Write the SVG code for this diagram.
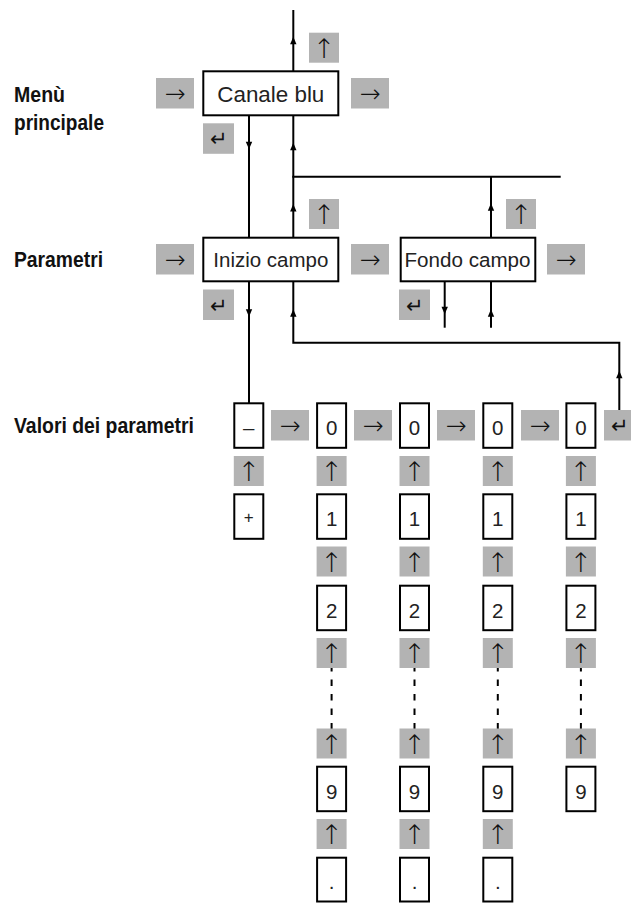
<svg xmlns="http://www.w3.org/2000/svg" xmlns:xlink="http://www.w3.org/1999/xlink" width="631" height="903" viewBox="0 0 631 903">
<style>
.bg{fill:#fff}
.box{fill:#fff;stroke:#000;stroke-width:2}
.key{fill:#b3b3b3}
.ln{fill:none;stroke:#000;stroke-width:2}
.dash{fill:none;stroke:#000;stroke-width:2;stroke-dasharray:6.5 8}
.lbl{font-family:"Liberation Sans Narrow","Liberation Sans",Arial,sans-serif;font-weight:bold;font-size:21.5px;fill:#111}
.txt{font-family:"Liberation Sans",Arial,sans-serif;font-size:20.5px;fill:#222;text-anchor:middle}
.sym{font-family:"DejaVu Sans",sans-serif;font-weight:200;font-size:25px;fill:#111;text-anchor:middle}
.up{font-family:"DejaVu Sans",sans-serif;font-weight:200;font-size:27px;fill:#111;text-anchor:middle}
.ret{font-family:"DejaVu Sans",sans-serif;font-weight:200;font-size:21px;fill:#111;text-anchor:middle}
</style>
<defs>
<path id="ahu" d="M0,0 L3.2,7.5 L-3.2,7.5 Z" fill="#000"/>
<path id="ahd" d="M0,0 L3.2,-7.5 L-3.2,-7.5 Z" fill="#000"/>
<g id="kup"><rect class="key" x="-15" y="0" width="30" height="30"/><text class="up" x="0" y="25">↑</text></g>
<g id="kright"><rect class="key" x="0" y="0" width="38" height="30.5"/><text class="sym" x="19" y="24">→</text></g>
<g id="kret"><rect class="key" x="0" y="0" width="31" height="30.5"/><text class="ret" x="15.5" y="23">↵</text></g>
</defs>
<rect class="bg" x="0" y="0" width="631" height="903"/>

<g id="labels">
<text class="lbl" x="14" y="101.7" textLength="51" lengthAdjust="spacingAndGlyphs">Menù</text>
<text class="lbl" x="14" y="130" textLength="90" lengthAdjust="spacingAndGlyphs">principale</text>
<text class="lbl" x="14" y="266.7" textLength="89" lengthAdjust="spacingAndGlyphs">Parametri</text>
<text class="lbl" x="14" y="432.7" textLength="180" lengthAdjust="spacingAndGlyphs">Valori dei parametri</text>
</g>

<g id="connectors">
<line class="ln" x1="293.3" y1="10" x2="293.3" y2="71"/>
<line class="ln" x1="249" y1="116" x2="249" y2="237"/>
<line class="ln" x1="293.3" y1="116" x2="293.3" y2="237"/>
<line class="ln" x1="292.3" y1="176.7" x2="560.7" y2="176.7"/>
<line class="ln" x1="491" y1="176.7" x2="491" y2="237"/>
<line class="ln" x1="249" y1="282" x2="249" y2="403"/>
<polyline class="ln" points="293.3,282 293.3,342.7 619.3,342.7 619.3,410"/>
<line class="ln" x1="444.7" y1="282" x2="444.7" y2="327.7"/>
<line class="ln" x1="491" y1="282" x2="491" y2="327.7"/>
<line class="dash" x1="331.6" y1="665" x2="331.6" y2="730"/>
<line class="dash" x1="414.5" y1="665" x2="414.5" y2="730"/>
<line class="dash" x1="497.8" y1="665" x2="497.8" y2="730"/>
<line class="dash" x1="580.9" y1="665" x2="580.9" y2="730"/>
<use xlink:href="#ahu" x="293.3" y="36.7"/>
<use xlink:href="#ahd" x="249" y="149.3"/>
<use xlink:href="#ahu" x="293.3" y="142.7"/>
<use xlink:href="#ahu" x="491" y="203.3"/>
<use xlink:href="#ahu" x="293.3" y="204"/>
<use xlink:href="#ahd" x="249" y="316.7"/>
<use xlink:href="#ahu" x="293.3" y="309.3"/>
<use xlink:href="#ahu" x="619.3" y="370.7"/>
<use xlink:href="#ahd" x="444.7" y="314.3"/>
<use xlink:href="#ahu" x="491" y="309.3"/>
</g>

<g id="keys">
<use xlink:href="#kup" x="324" y="32.7"/>
<use xlink:href="#kright" x="156" y="78"/>
<use xlink:href="#kright" x="351" y="78"/>
<use xlink:href="#kret" x="203" y="123.3"/>
<use xlink:href="#kup" x="324" y="199"/>
<use xlink:href="#kup" x="521" y="199"/>
<use xlink:href="#kright" x="156" y="244"/>
<use xlink:href="#kright" x="351" y="244"/>
<use xlink:href="#kright" x="547" y="244"/>
<use xlink:href="#kret" x="203" y="289.5"/>
<use xlink:href="#kret" x="399" y="289.5"/>
<use xlink:href="#kright" x="271" y="410"/>
<use xlink:href="#kright" x="354" y="410"/>
<use xlink:href="#kright" x="437" y="410"/>
<use xlink:href="#kright" x="521" y="410"/>
<use xlink:href="#kret" x="604" y="410"/>
<use xlink:href="#kup" x="248.8" y="456"/>
<use xlink:href="#kup" x="331.6" y="456"/>
<use xlink:href="#kup" x="414.5" y="456"/>
<use xlink:href="#kup" x="497.8" y="456"/>
<use xlink:href="#kup" x="580.9" y="456"/>
<use xlink:href="#kup" x="331.6" y="546.5"/>
<use xlink:href="#kup" x="414.5" y="546.5"/>
<use xlink:href="#kup" x="497.8" y="546.5"/>
<use xlink:href="#kup" x="580.9" y="546.5"/>
<use xlink:href="#kup" x="331.6" y="638"/>
<use xlink:href="#kup" x="414.5" y="638"/>
<use xlink:href="#kup" x="497.8" y="638"/>
<use xlink:href="#kup" x="580.9" y="638"/>
<use xlink:href="#kup" x="331.6" y="728.5"/>
<use xlink:href="#kup" x="414.5" y="728.5"/>
<use xlink:href="#kup" x="497.8" y="728.5"/>
<use xlink:href="#kup" x="580.9" y="728.5"/>
<use xlink:href="#kup" x="331.6" y="819"/>
<use xlink:href="#kup" x="414.5" y="819"/>
<use xlink:href="#kup" x="497.8" y="819"/>
</g>

<g id="node-canale-blu"><rect class="box" x="203.3" y="71.3" width="135" height="44"/><text class="txt" x="270.8" y="101.7" style="font-size:22px" textLength="107" lengthAdjust="spacingAndGlyphs">Canale blu</text></g>
<g id="node-inizio-campo"><rect class="box" x="203.3" y="237.7" width="135" height="43.6"/><text class="txt" x="270.8" y="267.3" textLength="115" lengthAdjust="spacingAndGlyphs">Inizio campo</text></g>
<g id="node-fondo-campo"><rect class="box" x="400.7" y="237.7" width="134.6" height="43.6"/><text class="txt" x="467.5" y="267.3" textLength="126" lengthAdjust="spacingAndGlyphs">Fondo campo</text></g>

<g id="node-sign"><rect class="box" x="234.3" y="403.3" width="29" height="44.5"/><text class="txt" x="248.8" y="435.3">–</text></g>
<g id="node-plus"><rect class="box" x="234.3" y="494.3" width="29" height="44.5"/><text class="txt" x="248.8" y="522.5" style="font-size:17px">+</text></g>

<g id="node-d1-0"><rect class="box" x="317.1" y="403.3" width="29" height="44.5"/><text class="txt" x="331.6" y="435.3">0</text></g>
<g id="node-d2-0"><rect class="box" x="400" y="403.3" width="29" height="44.5"/><text class="txt" x="414.5" y="435.3">0</text></g>
<g id="node-d3-0"><rect class="box" x="483.3" y="403.3" width="29" height="44.5"/><text class="txt" x="497.8" y="435.3">0</text></g>
<g id="node-d4-0"><rect class="box" x="566.4" y="403.3" width="29" height="44.5"/><text class="txt" x="580.9" y="435.3">0</text></g>

<g id="node-d1-1"><rect class="box" x="317.1" y="494.3" width="29" height="44.5"/><text class="txt" x="331.6" y="526">1</text></g>
<g id="node-d2-1"><rect class="box" x="400" y="494.3" width="29" height="44.5"/><text class="txt" x="414.5" y="526">1</text></g>
<g id="node-d3-1"><rect class="box" x="483.3" y="494.3" width="29" height="44.5"/><text class="txt" x="497.8" y="526">1</text></g>
<g id="node-d4-1"><rect class="box" x="566.4" y="494.3" width="29" height="44.5"/><text class="txt" x="580.9" y="526">1</text></g>

<g id="node-d1-2"><rect class="box" x="317.1" y="585.7" width="29" height="44.5"/><text class="txt" x="331.6" y="617.5">2</text></g>
<g id="node-d2-2"><rect class="box" x="400" y="585.7" width="29" height="44.5"/><text class="txt" x="414.5" y="617.5">2</text></g>
<g id="node-d3-2"><rect class="box" x="483.3" y="585.7" width="29" height="44.5"/><text class="txt" x="497.8" y="617.5">2</text></g>
<g id="node-d4-2"><rect class="box" x="566.4" y="585.7" width="29" height="44.5"/><text class="txt" x="580.9" y="617.5">2</text></g>

<g id="node-d1-9"><rect class="box" x="317.1" y="766.7" width="29" height="44.5"/><text class="txt" x="331.6" y="798.5">9</text></g>
<g id="node-d2-9"><rect class="box" x="400" y="766.7" width="29" height="44.5"/><text class="txt" x="414.5" y="798.5">9</text></g>
<g id="node-d3-9"><rect class="box" x="483.3" y="766.7" width="29" height="44.5"/><text class="txt" x="497.8" y="798.5">9</text></g>
<g id="node-d4-9"><rect class="box" x="566.4" y="766.7" width="29" height="44.5"/><text class="txt" x="580.9" y="798.5">9</text></g>

<g id="node-d1-dot"><rect class="box" x="317.1" y="857.7" width="29" height="43.8"/><text class="txt" x="331.6" y="888.5">.</text></g>
<g id="node-d2-dot"><rect class="box" x="400" y="857.7" width="29" height="43.8"/><text class="txt" x="414.5" y="888.5">.</text></g>
<g id="node-d3-dot"><rect class="box" x="483.3" y="857.7" width="29" height="43.8"/><text class="txt" x="497.8" y="888.5">.</text></g>
</svg>
